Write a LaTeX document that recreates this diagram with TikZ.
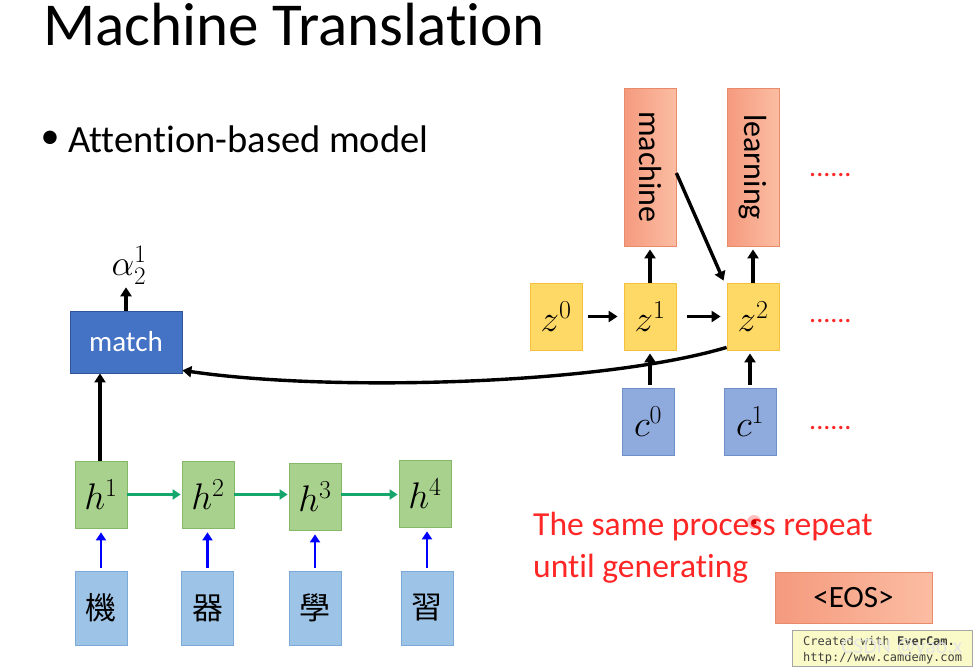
\RequirePackage{fix-cm}
\documentclass[tikz,border=0pt]{standalone}
\usepackage{fontspec}
\setmainfont{Carlito}[Ligatures=NoCommon]
\newfontfamily\cjk{Noto Sans CJK TC}
\newfontfamily\monof{DejaVu Sans Mono}
\usetikzlibrary{arrows.meta,calc}
\definecolor{matchfill}{HTML}{4472C4}
\definecolor{matchdraw}{HTML}{2F5597}
\definecolor{hfill}{HTML}{A9D18E}
\definecolor{hdraw}{HTML}{86B86A}
\definecolor{wfill}{HTML}{9DC3E6}
\definecolor{wdraw}{HTML}{7BA9D8}
\definecolor{zfill}{HTML}{FFD966}
\definecolor{zdraw}{HTML}{F5C040}
\definecolor{cfill}{HTML}{8FAADC}
\definecolor{cdraw}{HTML}{6F8FC8}
\definecolor{oleft}{HTML}{F59A7E}
\definecolor{oright}{HTML}{FBBDA2}
\definecolor{odraw}{HTML}{E98A6A}
\definecolor{gline}{HTML}{14A66A}
\definecolor{redtxt}{HTML}{FF2626}
\definecolor{ecfill}{HTML}{FAFAC8}
\begin{document}
\begin{tikzpicture}[x=1pt,y=-1pt,
  box/.style={draw, line width=0.8pt, inner sep=0pt, minimum width=52pt, minimum height=67pt},
  mathfont/.style={font=\fontsize{37}{37}\selectfont},
  hbox/.style={box, fill=hfill, draw=hdraw, mathfont},
  wbox/.style={box, fill=wfill, draw=wdraw, minimum height=74pt, font=\cjk\fontsize{31}{31}\selectfont},
  zbox/.style={box, fill=zfill, draw=zdraw, mathfont},
  cbox/.style={box, fill=cfill, draw=cdraw, mathfont},
  obox/.style={box, draw=odraw, left color=oleft, right color=oright},
  karr/.style={-{Triangle[length=9pt,width=11pt]}, line width=3.4pt},
  garr/.style={-{Triangle[length=8pt,width=10pt]}, line width=2.8pt, draw=gline},
  barr/.style={-{Triangle[length=8pt,width=10pt]}, line width=2.8pt, draw=blue},
  dots/.style={text=redtxt, font=\fontsize{28}{28}\selectfont, inner sep=0pt, anchor=base west}
]
\useasboundingbox (0,0) rectangle (978,667);
\fill[white] (0,0) rectangle (978,667);

% title and bullet
\node[anchor=base west, inner sep=0pt, font=\fontsize{61}{61}\selectfont] (title) at (43,45) {Machine Translation};
\node[inner sep=0pt, font=\fontsize{38}{38}\selectfont] (bul) at (50,140) {\textbullet};
\node[anchor=base west, inner sep=0pt, font=\fontsize{38.5}{38.5}\selectfont] (sub) at (68,152) {Attention-based model};

% encoder
\node[draw=matchdraw, fill=matchfill, line width=0.8pt, minimum width=112pt, minimum height=62pt, inner sep=0pt, text=white, font=\fontsize{29}{29}\selectfont] (match) at (126,342) {match};
\node[inner sep=1pt, font=\fontsize{36}{36}\selectfont] (alpha) at (129,265) {$\alpha_2^1$};

\node[hbox] (h1) at (101,494.5) {$h^1$};
\node[hbox] (h2) at (208,494.5) {$h^2$};
\node[hbox] (h3) at (315,496.5) {$h^3$};
\node[hbox] (h4) at (425,493.5) {$h^4$};

\node[wbox] (w1) at (101,608) {機};
\node[wbox] (w2) at (207.5,608) {器};
\node[wbox] (w3) at (315,608) {學};
\node[wbox] (w4) at (427,608) {習};

\draw[karr] (match.north) -- ([yshift=-2pt]match.north |- alpha.south);
\draw[karr] ([xshift=-1pt]h1.north) -- ([xshift=-1pt]h1.north |- match.south);
\draw[garr] (h1.east) -- ([xshift=-1pt]h2.west);
\draw[garr] (h2.east) -- ([xshift=-1pt]h3.west |- h2.east);
\draw[garr] (h3.east |- h2.east) -- ([xshift=-1pt]h4.west |- h2.east);
\draw[barr, shorten <=3pt, shorten >=4pt] (w1.north) -- (w1.north |- h1.south);
\draw[barr, shorten <=3pt, shorten >=4pt] (w2.north) -- (w2.north |- h2.south);
\draw[barr, shorten <=3pt, shorten >=4pt] (w3.north) -- (w3.north |- h3.south);
\draw[barr, shorten <=3pt, shorten >=4pt] (w4.north) -- (w4.north |- h4.south);

% decoder
\node[zbox] (z0) at (556,316.5) {$z^0$};
\node[zbox] (z1) at (650,316.5) {$z^1$};
\node[zbox] (z2) at (753,316.5) {$z^2$};
\node[obox, minimum height=158pt] (mach) at (650,167) {\rotatebox{-90}{\fontsize{32}{32}\selectfont machine}};
\node[obox, minimum height=158pt] (learn) at (753,167) {\rotatebox{-90}{\fontsize{32}{32}\selectfont learning}};
\node[cbox] (c0) at (648,421.5) {$c^0$};
\node[cbox] (c1) at (750,421.5) {$c^1$};

\draw[karr, shorten <=6pt, shorten >=6pt] (z0.east) -- (z1.west);
\draw[karr, shorten <=11pt, shorten >=6pt] (z1.east) -- (z2.west);
\draw[karr, shorten >=3pt] (z1.north) -- (z1.north |- mach.south);
\draw[karr, shorten >=3pt] (z2.north) -- (z2.north |- learn.south);
\draw[karr, shorten <=3pt, shorten >=3pt] (z1.south |- c0.north) -- (z1.south);
\draw[karr, shorten <=3pt, shorten >=3pt] (c1.north) -- (c1.north |- z2.south);
\draw[karr] ([yshift=-6pt]mach.east) -- ([xshift=-3pt,yshift=2pt]z2.north west);
\draw[karr] ([yshift=3pt]z2.south west) .. controls (600,385) and (330,392) .. ([yshift=3pt]match.south east);

\node[dots] (d1) at (809,176) {......};
\node[dots] (d2) at (809,322) {......};
\node[dots] (d3) at (809,429) {......};

% bottom right text
\node[anchor=base west, inner sep=0pt, text=redtxt, font=\fontsize{33.6}{33.6}\selectfont] (r1) at (533,535) {The same process repeat};
\node[anchor=base west, inner sep=0pt, text=redtxt, font=\fontsize{33.6}{33.6}\selectfont] (r2) at (533,577) {until generating};
\fill[red, opacity=0.25] (754,522) circle (7pt);
\fill[red!80!black] (754,522) circle (2.5pt);

\node[draw=odraw, line width=0.8pt, left color=oleft, right color=oright, minimum width=157pt, minimum height=51pt, inner sep=0pt, font=\fontsize{31}{31}\selectfont] (eos) at (853.5,597.5) {<EOS>};

% watermark
\node[draw=gray!70, line width=1pt, fill=ecfill, minimum width=180pt, minimum height=36pt, inner sep=0pt] (ec) at (882,648) {};
\node[anchor=base west, inner sep=0pt, font=\monof\fontsize{12}{12}\selectfont, text=black!75] (ec1) at (803,645) {Created with \textbf{EverCam.}};
\node[anchor=base west, inner sep=0pt, font=\monof\fontsize{12}{12}\selectfont, text=black!75] (ec2) at (803,661) {http://www.camdemy.com};
\node[inner sep=0pt, font=\fontsize{22}{22}\selectfont, text=white!80!gray, opacity=0.9] (csdn) at (902,648) {CSDN @yao.x};
\end{tikzpicture}
\end{document}
